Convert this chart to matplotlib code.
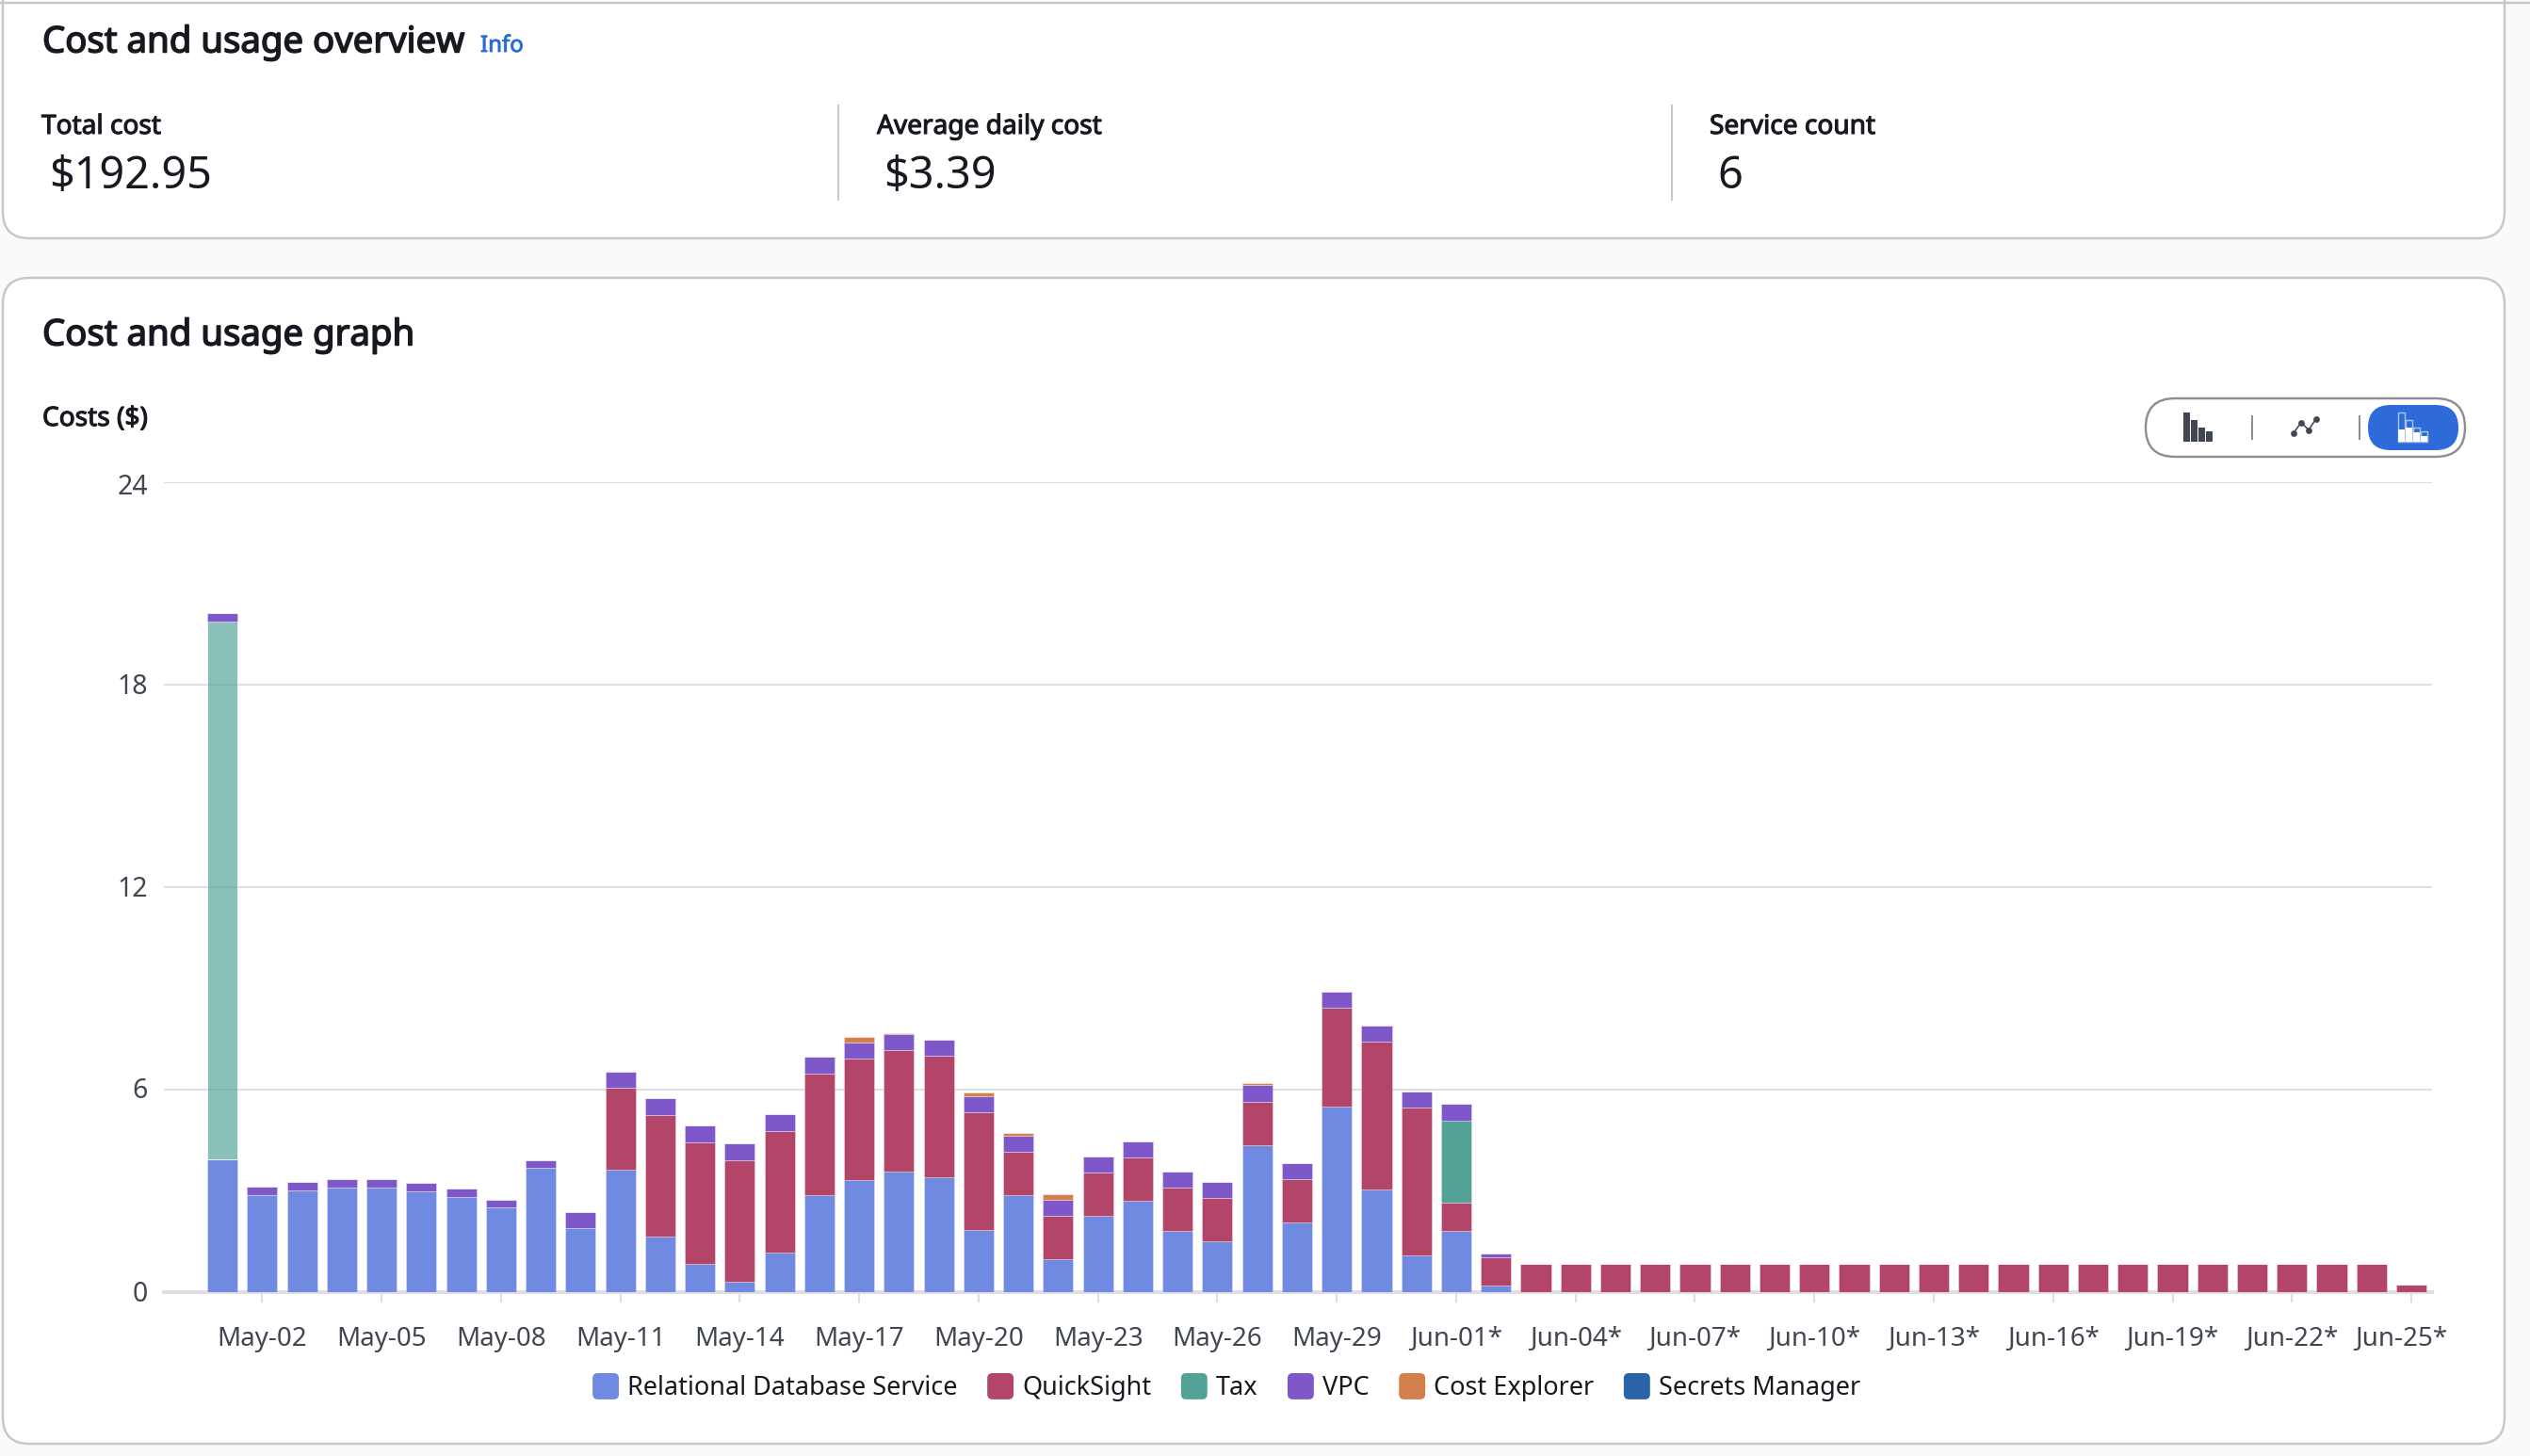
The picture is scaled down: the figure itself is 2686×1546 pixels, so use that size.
import matplotlib

matplotlib.use("Agg")
import matplotlib.patheffects as pe
import matplotlib.pyplot as plt
from matplotlib.legend_handler import HandlerPatch
from matplotlib.patches import FancyBboxPatch, Rectangle
from matplotlib.transforms import ScaledTranslation

W, H = 2686, 1546
FONT = "Noto Sans"

# one entry per day, May-01 to Jun-25*
dates = [f"May-{d:02d}" for d in range(1, 32)] + [f"Jun-{d:02d}*" for d in range(1, 26)]

rds = [3.93, 2.88, 3.02, 3.11, 3.11, 3.00, 2.83, 2.50, 3.67, 1.90, 3.63, 1.66, 0.85, 0.31, 1.18,
       2.88, 3.31, 3.58, 3.40, 1.83, 2.87, 0.99, 2.25, 2.70, 1.81, 1.51, 4.36, 2.07, 5.51, 3.04, 1.09,
       1.81, 0.19] + [0] * 23
quicksight = [0, 0, 0, 0, 0, 0, 0, 0, 0, 0, 2.43, 3.60, 3.60, 3.61, 3.60,
              3.60, 3.62, 3.60, 3.61, 3.51, 1.30, 1.28, 1.29, 1.30, 1.30, 1.28, 1.29, 1.28, 2.93, 4.39, 4.39,
              0.84, 0.83] + [0.845] * 22 + [0.22]
tax = [15.94] + [0] * 30 + [2.44] + [0] * 24
vpc = [0.25, 0.25, 0.25, 0.25, 0.25, 0.25, 0.24, 0.24, 0.25, 0.47, 0.48, 0.50, 0.50, 0.50, 0.49,
       0.51, 0.47, 0.48, 0.47, 0.46, 0.46, 0.47, 0.48, 0.47, 0.47, 0.48, 0.48, 0.48, 0.46, 0.48, 0.47,
       0.49, 0.12] + [0] * 23
cost_explorer = [0] * 16 + [0.17, 0.02, 0, 0.13, 0.10, 0.17, 0, 0, 0, 0, 0.06] + [0] * 29
secrets_manager = [0] * 56

series = [
    ("Relational Database Service", rds, "#6F8AE0"),
    ("QuickSight", quicksight, "#B34568"),
    ("Tax", tax, "#52A395"),
    ("VPC", vpc, "#7E57C8"),
    ("Cost Explorer", cost_explorer, "#D3804C"),
    ("Secrets Manager", secrets_manager, "#2A64A6"),
]

y_ticks = [0, 6, 12, 18, 24]
x_tick_every = 3

kpis = [
    ("Total cost", "$192.95", 44, 52),
    ("Average daily cost", "$3.39", 931, 938),
    ("Service count", "6", 1815, 1823),
]
dividers = [890, 1775]

TEXT = "#16191F"
AXIS_TEXT = "#414750"
BORDER = "#C6C6CD"
GRID = "#DEDEE3"
BLUE = "#2E6BD9"
ICON = "#414750"


def px(n):
    return n * 0.72


fig = plt.figure(figsize=(W / 100, H / 100), dpi=100, facecolor="#FAFAFA")

# page furniture, in image pixels
bg = fig.add_axes([0, 0, 1, 1])
bg.set_xlim(0, W)
bg.set_ylim(H, 0)
bg.axis("off")


def panel(x0, y0, x1, y1):
    bg.add_patch(FancyBboxPatch((x0 + 28, y0 + 28), x1 - x0 - 56, y1 - y0 - 56,
                                boxstyle="round,pad=28,rounding_size=28",
                                fc="white", ec=BORDER, lw=px(2.4)))


panel(3, -30, 2659, 253)
bg.plot([0, 2686], [3, 3], color=BORDER, lw=px(2.4))
panel(3, 295, 2659, 1533)


def label(x, y, s, size, bold=0, color=TEXT):
    t = bg.text(x, y, s, fontsize=size, color=color, family=FONT, ha="left", va="center_baseline")
    # this Noto Sans has no bold cut, so thicken the outline instead
    if bold:
        t.set_path_effects([pe.withStroke(linewidth=bold, foreground=color)])


label(45, 41, "Cost and usage overview", 27.6, 1.1)
label(510, 46, "Info", 17.3, 0.6, "#2A6BD9")
for title, value, x_title, x_value in kpis:
    label(x_title, 131.5, title, 20.2, 0.8)
    label(x_value, 182, value, 33.7)
for x in dividers:
    bg.plot([x, x], [112, 212], color=BORDER, lw=px(2))
label(45, 352, "Cost and usage graph", 27.6, 1.1)
label(45, 441.5, "Costs ($)", 20.2, 0.8)

# chart type toggle
bg.add_patch(FancyBboxPatch((2278 + 31, 423 + 31), 339 - 62, 0, boxstyle="round,pad=31,rounding_size=31",
                            fc="white", ec="#8D8D95", lw=px(2.4)))
bg.add_patch(FancyBboxPatch((2514 + 24, 430 + 24), 96 - 48, 0, boxstyle="round,pad=24,rounding_size=24",
                            fc=BLUE, ec="none"))
for x in [2391, 2505]:
    bg.plot([x, x], [442, 466], color="#8D8D95", lw=px(2))
for i, top in enumerate([438, 445.5, 453.5, 457.5]):
    bg.add_patch(Rectangle((2318 + 8 * i, top), 6.6, 468.5 - top, fc=ICON, ec="none"))
bg.plot([2435, 2443, 2451, 2459], [460, 448.5, 456.5, 444.5], color=ICON, lw=px(1.6),
        marker="o", ms=px(6.8), mec="none")
for i, (top, mid) in enumerate(zip([438, 445.5, 453.5, 457.5], [456, 453.5, 458.5, 463])):
    x = 2546 + 8 * i
    bg.add_patch(Rectangle((x, top), 6.6, 468.5 - top, fc="none", ec="#A9C4F0", lw=px(1.4)))
    bg.add_patch(Rectangle((x, mid), 6.6, 468.5 - mid, fc="white", ec="none"))

# the chart itself
ax = fig.add_axes([174 / W, 1 - 1372 / H, (2582 - 174) / W, (1372 - 512) / H])
ax.patch.set_alpha(0)
ax.set_axisbelow(True)

xs = list(range(len(dates)))
bottom = [0.0] * len(dates)
for name, values, color in series:
    bars = ax.bar(xs, values, width=0.76, bottom=bottom, color=color, label=name,
                  edgecolor=(1, 1, 1, 0.3), linewidth=px(1), zorder=3)
    bottom = [b + v for b, v in zip(bottom, values)]
    if name == "Tax":
        # May-01 tax is drawn faded in the original
        bars[0].set_alpha(0.68)

ax.set_xlim(-1.47, 55.52)
ax.set_ylim(0, 24)
ax.set_yticks(y_ticks)
ax.set_xticks(xs[1::x_tick_every])
ax.set_xticklabels(dates[1::x_tick_every])
ax.grid(axis="y", color=GRID, lw=px(2), zorder=0)
for side in ["top", "left", "right"]:
    ax.spines[side].set_visible(False)
ax.spines["bottom"].set_color(GRID)
ax.spines["bottom"].set_linewidth(px(4))
ax.tick_params(axis="y", length=0, pad=px(17), labelsize=20.5, labelcolor=AXIS_TEXT)
ax.tick_params(axis="x", length=px(11), width=px(2), color=GRID, pad=px(25), labelsize=20, labelcolor=AXIS_TEXT)
for t in ax.get_xticklabels() + ax.get_yticklabels():
    t.set_family(FONT)

# tick labels that the original nudges: top one stays inside, last one shifts left
dpi_trans = fig.dpi_scale_trans
for t, val in zip(ax.get_yticklabels(), y_ticks):
    dy = -1.5 if val == 24 else 1.5
    t.set_transform(t.get_transform() + ScaledTranslation(0, dy / 100, dpi_trans))
last = ax.get_xticklabels()[-1]
last.set_transform(last.get_transform() + ScaledTranslation(-11 / 100, 0, dpi_trans))


class RoundSwatch(HandlerPatch):
    def create_artists(self, legend, orig_handle, xdescent, ydescent, width, height, fontsize, trans):
        p = FancyBboxPatch((-xdescent + 4, -ydescent + 4 + (height - width) / 2), width - 8, width - 8,
                           boxstyle="round,pad=4,rounding_size=4", fc=orig_handle.get_facecolor(), ec="none",
                           transform=trans, mutation_scale=1)
        return [p]


handles = [Rectangle((0, 0), 1, 1, fc=c) for _, _, c in series]
leg = ax.legend(handles, [s[0] for s in series], ncol=6, frameon=False,
                loc="center", bbox_to_anchor=(1302 / W, 1 - 1474 / H), bbox_transform=fig.transFigure,
                prop={"family": FONT, "size": 19.5}, labelcolor=TEXT,
                handler_map={Rectangle: RoundSwatch()},
                handlelength=1.03, handleheight=1.0, handletextpad=0.33, columnspacing=1.17, borderpad=0)

fig.savefig("out.png", dpi=100, facecolor=fig.get_facecolor())
